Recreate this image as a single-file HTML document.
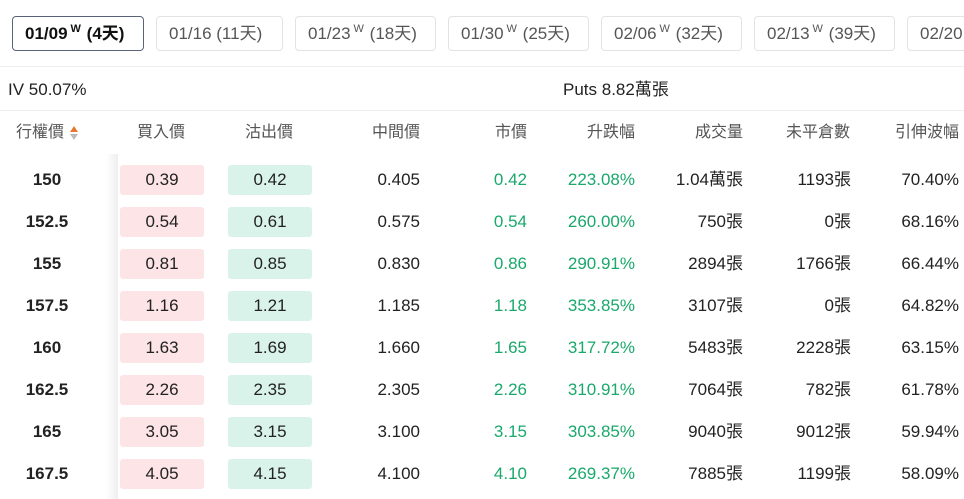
<!DOCTYPE html>
<html><head><meta charset="utf-8"><style>
*{margin:0;padding:0;box-sizing:border-box}
html,body{width:964px;height:499px;overflow:hidden}
body{background:#fff;font-family:"Liberation Sans","Noto Sans CJK TC",sans-serif;color:#222;position:relative}
.wrap{position:absolute;left:0;top:0;width:964px;height:499px;overflow:hidden}
.b{position:absolute;top:16px;height:35px;border:1px solid #e3e3e3;border-radius:4px;font-size:17px;color:#555;line-height:33px;padding-left:12px;white-space:nowrap}
.b sup{font-size:11px;display:inline-block;vertical-align:top;line-height:11px;margin-top:7px;margin-left:3px;margin-right:1px}
.b.a{border-color:#5a6478;color:#111;font-weight:bold}
.hr{position:absolute;left:0;width:964px;height:1px;background:#eee}
.t{position:absolute;font-size:17px;line-height:20px;white-space:nowrap}
.h{position:absolute;top:123px;font-size:16px;line-height:20px;color:#555;white-space:nowrap}
.r{position:absolute;left:0;width:964px;height:30px;font-size:17px;line-height:30px}
.r span{position:absolute;white-space:nowrap;top:0;height:30px}
.k{left:0;width:94px;text-align:center;font-weight:bold}
.bu{left:120px;width:84px;text-align:center;background:#fde4e6;border-radius:3px}
.se{left:228px;width:84px;text-align:center;background:#daf3ea;border-radius:3px}
.m{right:544px}.p{right:437px;color:#1aa86b}.c{right:329px;color:#1aa86b}.v{right:221px}.o{right:113px}.i{right:5px}
.sh{position:absolute;left:106px;top:154px;width:12px;height:345px;background:linear-gradient(to right,#fff,#eee)}
.so{position:absolute;left:70px;top:126px;width:0;height:0;border-left:4px solid transparent;border-right:4px solid transparent;border-bottom:6px solid #e8772e}
.so2{position:absolute;left:70px;top:134px;width:0;height:0;border-left:4px solid transparent;border-right:4px solid transparent;border-top:6px solid #bbb}
</style></head><body><div class="wrap">
<div class="b a" style="left:12px;width:132px">01/09<sup>W</sup> (4天)</div>
<div class="b" style="left:156px;width:127px">01/16 (11天)</div>
<div class="b" style="left:295px;width:141px">01/23<sup>W</sup> (18天)</div>
<div class="b" style="left:448px;width:141px">01/30<sup>W</sup> (25天)</div>
<div class="b" style="left:601px;width:141px">02/06<sup>W</sup> (32天)</div>
<div class="b" style="left:754px;width:141px">02/13<sup>W</sup> (39天)</div>
<div class="b" style="left:907px;width:141px">02/20<sup>W</sup> (46天)</div>
<div class="hr" style="top:66px"></div>
<div class="t" style="left:8px;top:80px">IV 50.07%</div>
<div class="t" style="left:563px;top:80px">Puts 8.82萬張</div>
<div class="hr" style="top:110px"></div>
<div class="h" style="left:16px">行權價</div><div class="so"></div><div class="so2"></div>
<div class="h" style="left:137px">買入價</div>
<div class="h" style="left:245px">沽出價</div>
<div class="h" style="left:372px">中間價</div>
<div class="h" style="left:495px">市價</div>
<div class="h" style="left:587px">升跌幅</div>
<div class="h" style="left:695px">成交量</div>
<div class="h" style="left:786px">未平倉數</div>
<div class="h" style="left:895px">引伸波幅</div>
<div class="sh"></div>
<div class="r" style="top:165px"><span class="k">150</span><span class="bu">0.39</span><span class="se">0.42</span><span class="m">0.405</span><span class="p">0.42</span><span class="c">223.08%</span><span class="v">1.04萬張</span><span class="o">1193張</span><span class="i">70.40%</span></div>
<div class="r" style="top:207px"><span class="k">152.5</span><span class="bu">0.54</span><span class="se">0.61</span><span class="m">0.575</span><span class="p">0.54</span><span class="c">260.00%</span><span class="v">750張</span><span class="o">0張</span><span class="i">68.16%</span></div>
<div class="r" style="top:249px"><span class="k">155</span><span class="bu">0.81</span><span class="se">0.85</span><span class="m">0.830</span><span class="p">0.86</span><span class="c">290.91%</span><span class="v">2894張</span><span class="o">1766張</span><span class="i">66.44%</span></div>
<div class="r" style="top:291px"><span class="k">157.5</span><span class="bu">1.16</span><span class="se">1.21</span><span class="m">1.185</span><span class="p">1.18</span><span class="c">353.85%</span><span class="v">3107張</span><span class="o">0張</span><span class="i">64.82%</span></div>
<div class="r" style="top:333px"><span class="k">160</span><span class="bu">1.63</span><span class="se">1.69</span><span class="m">1.660</span><span class="p">1.65</span><span class="c">317.72%</span><span class="v">5483張</span><span class="o">2228張</span><span class="i">63.15%</span></div>
<div class="r" style="top:375px"><span class="k">162.5</span><span class="bu">2.26</span><span class="se">2.35</span><span class="m">2.305</span><span class="p">2.26</span><span class="c">310.91%</span><span class="v">7064張</span><span class="o">782張</span><span class="i">61.78%</span></div>
<div class="r" style="top:417px"><span class="k">165</span><span class="bu">3.05</span><span class="se">3.15</span><span class="m">3.100</span><span class="p">3.15</span><span class="c">303.85%</span><span class="v">9040張</span><span class="o">9012張</span><span class="i">59.94%</span></div>
<div class="r" style="top:459px"><span class="k">167.5</span><span class="bu">4.05</span><span class="se">4.15</span><span class="m">4.100</span><span class="p">4.10</span><span class="c">269.37%</span><span class="v">7885張</span><span class="o">1199張</span><span class="i">58.09%</span></div>
</div></body></html>
